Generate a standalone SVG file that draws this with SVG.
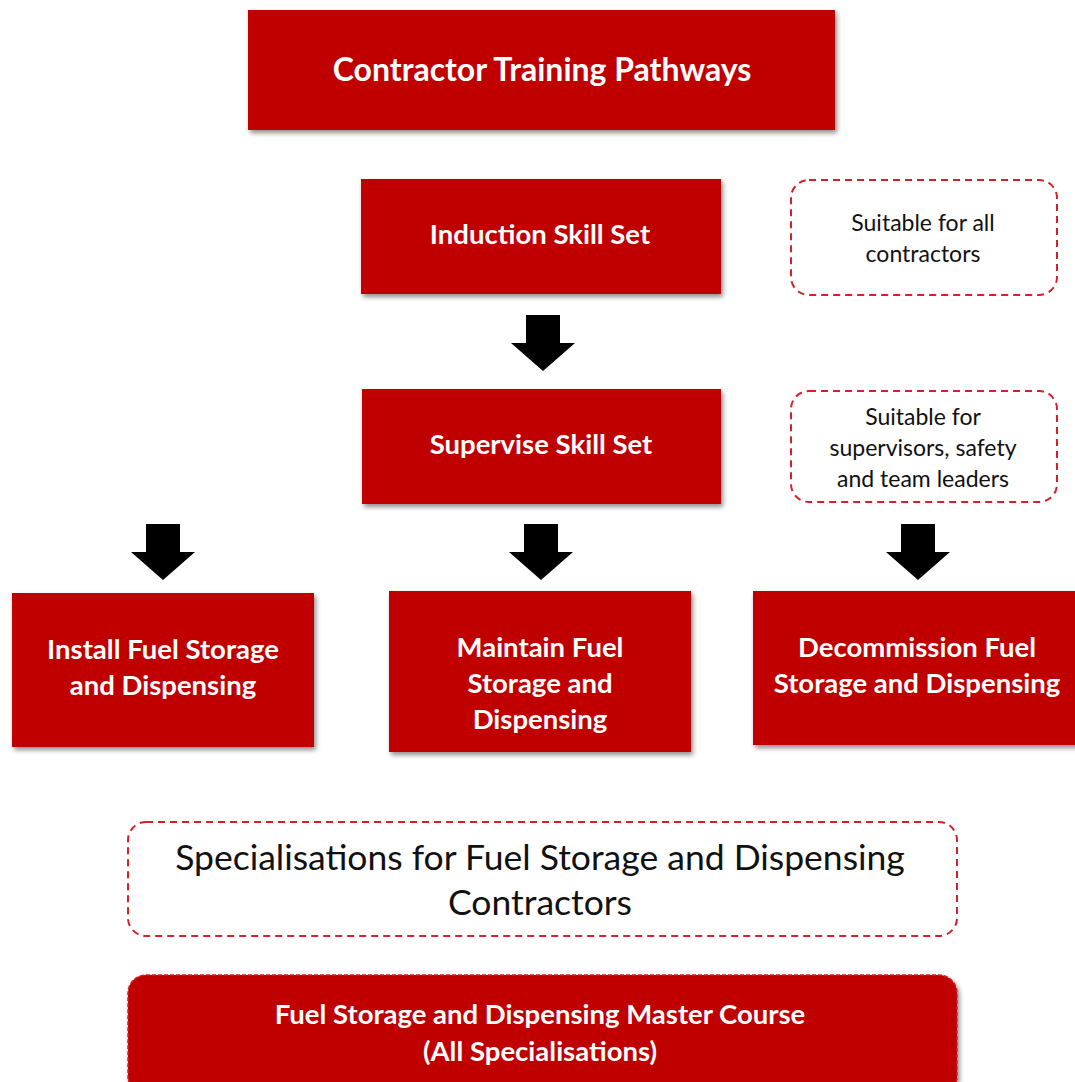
<svg xmlns="http://www.w3.org/2000/svg" width="1075" height="1082" viewBox="0 0 1075 1082">
<defs>
<filter id="sh" x="-10%" y="-10%" width="125%" height="130%">
<feGaussianBlur in="SourceAlpha" stdDeviation="2.5"/>
<feOffset dx="2" dy="3" result="b"/>
<feComponentTransfer><feFuncA type="linear" slope="0.45"/></feComponentTransfer>
<feMerge><feMergeNode/><feMergeNode in="SourceGraphic"/></feMerge>
</filter>
<path id="arr" d="M-17,0 H17 V28 H32 L0,56 L-32,28 H-17 Z"/>
</defs>
<style>
.box{fill:#C00000;filter:url(#sh);}
.note{fill:#fff;stroke:#D42027;stroke-width:2;stroke-dasharray:7 5;}
.wt{fill:#fff;font-family:Lato,"Open Sans","Liberation Sans",sans-serif;font-weight:bold;text-anchor:middle;dominant-baseline:central;font-size:27.5px;}
.bt{fill:#111;font-family:Lato,"Open Sans","Liberation Sans",sans-serif;text-anchor:middle;dominant-baseline:central;font-size:23px;}
.arrow{fill:#000;}
</style>
<rect width="1075" height="1082" fill="#fff"/>
<g id="title"><rect class="box" x="248" y="10" width="587" height="120"/><text class="wt" x="542" y="68" style="font-size:32px">Contractor Training Pathways</text></g>
<g id="induction"><rect class="box" x="361" y="179" width="360" height="115"/><text class="wt" x="540" y="233">Induction Skill Set</text></g>
<g id="note-all"><rect class="note" x="791" y="180" width="266" height="115" rx="18"/><text class="bt" x="923" y="222">Suitable for all</text><text class="bt" x="923" y="253">contractors</text></g>
<g id="supervise"><rect class="box" x="362" y="389" width="359" height="115"/><text class="wt" x="541" y="443">Supervise Skill Set</text></g>
<g id="note-sup"><rect class="note" x="791" y="391" width="266" height="111" rx="18"/><text class="bt" x="923" y="416">Suitable for</text><text class="bt" x="923" y="447">supervisors, safety</text><text class="bt" x="923" y="478">and team leaders</text></g>
<g id="install"><rect class="box" x="12" y="593" width="302" height="154"/><text class="wt" x="163" y="648">Install Fuel Storage</text><text class="wt" x="163" y="684">and Dispensing</text></g>
<g id="maintain"><rect class="box" x="389" y="591" width="302" height="161"/><text class="wt" x="540" y="646">Maintain Fuel</text><text class="wt" x="540" y="682">Storage and</text><text class="wt" x="540" y="718">Dispensing</text></g>
<g id="decommission"><rect class="box" x="753" y="591" width="330" height="154"/><text class="wt" x="917" y="646">Decommission Fuel</text><text class="wt" x="917" y="682">Storage and Dispensing</text></g>
<g id="specialisations"><rect class="note" x="128" y="822" width="829" height="114" rx="18"/><text class="bt" x="540" y="856" style="font-size:35.5px">Specialisations for Fuel Storage and Dispensing</text><text class="bt" x="540" y="901" style="font-size:35.5px">Contractors</text></g>
<g id="master"><rect x="128" y="975" width="829" height="120" rx="18" fill="#C00000" stroke="#D42027" stroke-width="1.5" stroke-dasharray="4 2" filter="url(#sh)"/><text class="wt" x="540" y="1013">Fuel Storage and Dispensing Master Course</text><text class="wt" x="540" y="1050">(All Specialisations)</text></g>
<g id="connectors">
<use class="arrow" href="#arr" x="543" y="315"/>
<use class="arrow" href="#arr" x="163" y="524"/>
<use class="arrow" href="#arr" x="541" y="524"/>
<use class="arrow" href="#arr" x="918" y="524"/>
</g>
</svg>
